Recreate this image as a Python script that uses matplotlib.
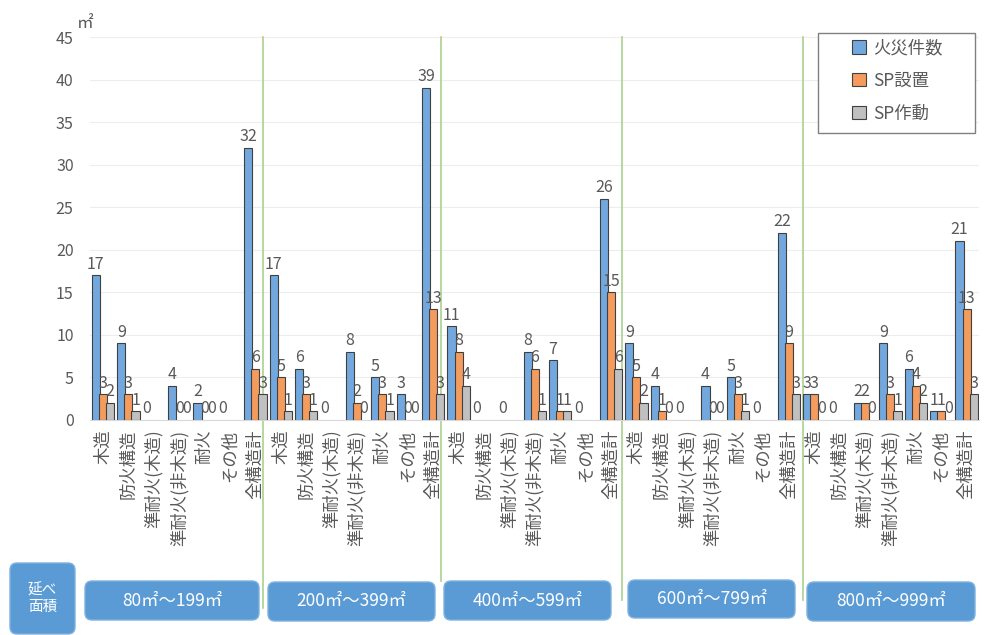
import matplotlib
matplotlib.use('Agg')
import matplotlib.pyplot as plt
import numpy as np
from matplotlib.patches import Patch, FancyBboxPatch, Rectangle

plt.rcParams['font.family'] = ['Noto Sans CJK JP', 'DejaVu Sans']

structures = ['木造', '防火構造', '準耐火(木造)', '準耐火(非木造)', '耐火', 'その他', '全構造計']
areas = ['80㎡～199㎡', '200㎡～399㎡', '400㎡～599㎡', '600㎡～799㎡', '800㎡～999㎡']
series = ['火災件数', 'SP設置', 'SP作動']
N = None  # blank cell -> no bar, no label
fires = [17, 9, 0, 4, 2, 0, 32,
         17, 6, 0, 8, 5, 3, 39,
         11, 0, 0, 8, 7, 0, 26,
         9, 4, 0, 4, 5, 0, 22,
         3, 0, 2, 9, 6, 1, 21]
sp_installed = [3, 3, N, 0, 0, N, 6,
                5, 3, N, 2, 3, 0, 13,
                8, N, N, 6, 1, N, 15,
                5, 1, N, 0, 3, N, 9,
                3, N, 2, 3, 4, 1, 13]
sp_activated = [2, 1, N, 0, 0, N, 3,
                1, 1, N, 0, 1, 0, 3,
                4, N, N, 1, 1, N, 6,
                2, 0, N, 0, 1, N, 3,
                0, N, 0, 1, 2, 0, 3]

colors = ['#72A8DE', '#F39C5E', '#C0C0C0']
txt = '#595959'

fig = plt.figure(figsize=(9.86, 6.35), dpi=100)
ax = fig.add_axes([0.0916, 0.3386, 0.9016, 0.6031])

x = np.arange(len(fires))
offs = [-0.28, 0, 0.28]
for k, vals in enumerate([fires, sp_installed, sp_activated]):
    h = np.array([np.nan if (v is None or v == 0) else v for v in vals], dtype=float)
    ax.bar(x + offs[k], h, width=0.32, color=colors[k], edgecolor='#404040', linewidth=0.8, zorder=2 + k)
    for xi, v in zip(x, vals):
        if v is None:
            continue
        ax.annotate(str(v), (xi + offs[k], v), xytext=(0, 2), textcoords='offset points',
                    ha='center', va='bottom', fontsize=11.5, color=txt, zorder=10)

ax.set_xlim(-0.5, len(fires) - 0.5)
ax.set_ylim(0, 45)
ax.set_yticks(range(0, 46, 5))
ax.set_xticks(x)
ax.set_xticklabels(structures * len(areas), rotation=90, fontsize=12.5, color=txt)
ax.tick_params(axis='y', length=0, labelsize=11.5, labelcolor=txt, pad=12)
ax.tick_params(axis='x', length=0, pad=7)
ax.grid(axis='y', color='#EDEDED', linewidth=0.8, zorder=0)
ax.set_axisbelow(True)
for s in ['left', 'top', 'right']:
    ax.spines[s].set_visible(False)
ax.spines['bottom'].set_color('#D9D9D9')

# group separators
for sx, yb in zip([6.3, 13.3, 20.45, 27.55], [-0.49, -0.42, -0.47, -0.47]):
    ax.axvline(sx, ymin=yb, ymax=1.0, color='#A9D18E', linewidth=1.2, clip_on=False, zorder=1)

fig.text(77 / 986, 1 - 24 / 635, '㎡', fontsize=12, color=txt, va='center')

# legend box drawn above the axes
fig.add_artist(Rectangle((818 / 100, (635 - 133) / 100), 157 / 100, 100 / 100,
                         transform=fig.dpi_scale_trans, facecolor='white', edgecolor='#808080',
                         linewidth=1, zorder=5))
handles = [Patch(facecolor=c, edgecolor='#404040', linewidth=0.8) for c in colors]
leg = fig.legend(handles, series, loc='upper left', bbox_to_anchor=(852 / 986, 1 - 39 / 635),
                 frameon=False, fontsize=12.5, labelspacing=0.85, handlelength=0.8,
                 handleheight=0.8, handletextpad=0.4, borderpad=0, borderaxespad=0)
leg.set_zorder(6)
for t in leg.get_texts():
    t.set_color(txt)


def px_box(x0, y0, x1, y1, label, fs):
    fig.add_artist(FancyBboxPatch((x0 / 100, (635 - y1) / 100), (x1 - x0) / 100, (y1 - y0) / 100,
                                  boxstyle='round,pad=0,rounding_size=0.07',
                                  transform=fig.dpi_scale_trans, facecolor='#5B9BD5',
                                  edgecolor='#7EB1E0', linewidth=1))
    fig.text((x0 + x1) / 2 / 986, 1 - (y0 + y1) / 2 / 635, label, color='white', fontsize=fs,
             ha='center', va='center', linespacing=1.2)


px_box(10, 563, 75, 634, '延べ\n面積', 10.5)
boxes = [(85, 581, 259, 620), (268, 582, 435, 621), (444, 581, 611, 620),
         (628, 580, 795, 618), (807, 582, 975, 621)]
for (x0, y0, x1, y1), a in zip(boxes, areas):
    px_box(x0, y0, x1, y1, a, 12.5)

fig.savefig('out.png', dpi=100)
